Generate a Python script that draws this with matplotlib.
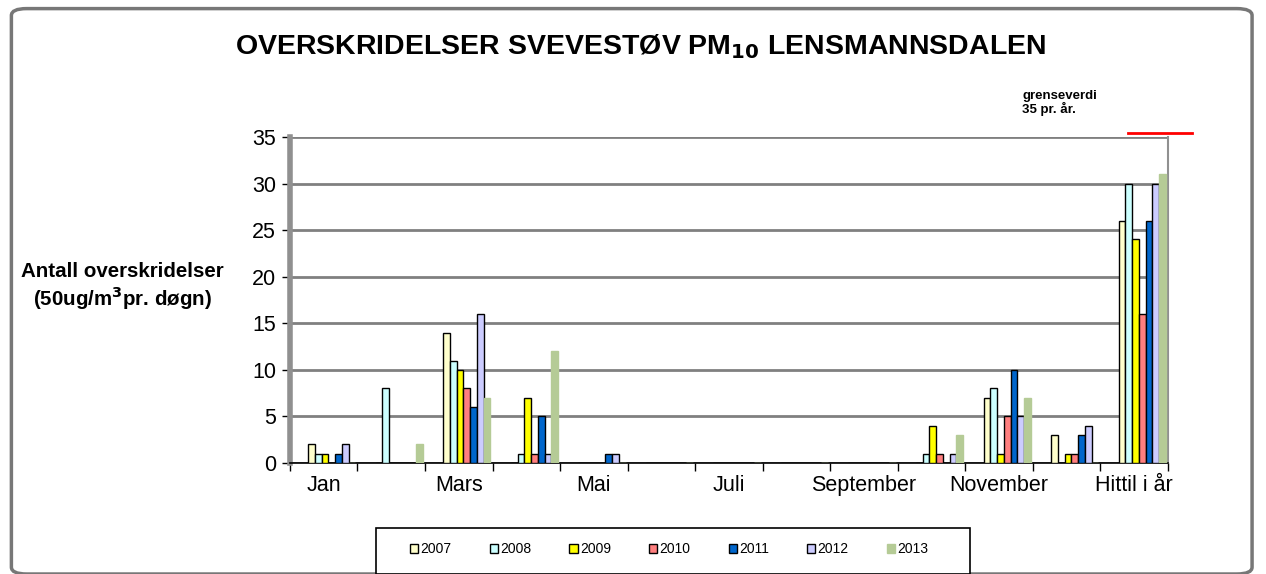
import numpy as np
import matplotlib
matplotlib.use("Agg")
import matplotlib.pyplot as plt
from matplotlib.patches import FancyBboxPatch, Patch, Rectangle

plt.rcParams['font.family'] = ['Liberation Sans', 'DejaVu Sans']

# maneder (kun annenhver vises som etikett)
categories = ["Jan", "Feb", "Mars", "April", "Mai", "Juni", "Juli", "Aug",
              "September", "Okt", "November", "Des", "Hittil i år"]
years = ["2007", "2008", "2009", "2010", "2011", "2012", "2013"]

v2007 = [2, 0, 14, 0, 0, 0, 0, 0, 0, 0, 7, 3, 26]
v2008 = [1, 8, 11, 1, 0, 0, 0, 0, 0, 1, 8, 0, 30]
v2009 = [1, 0, 10, 7, 0, 0, 0, 0, 0, 4, 1, 1, 24]
v2010 = [0, 0, 8, 1, 0, 0, 0, 0, 0, 1, 5, 1, 16]
v2011 = [1, 0, 6, 5, 1, 0, 0, 0, 0, 0, 10, 3, 26]
v2012 = [2, 0, 16, 1, 1, 0, 0, 0, 0, 1, 5, 4, 30]
v2013 = [0, 2, 7, 12, 0, 0, 0, 0, 0, 3, 7, 0, 31]
series = [v2007, v2008, v2009, v2010, v2011, v2012, v2013]

colors = ["#FFFFCC", "#CCFFFF", "#FFFF00", "#FF7F7F", "#0066CC", "#CCCCFF", "#B5CB96"]
limit = 35

fig = plt.figure(figsize=(12.66, 5.74), dpi=100)

# ramme rundt diagrammet
fig.patches.append(FancyBboxPatch((0.009, 0.0), 0.98, 0.985, boxstyle="round,pad=0,rounding_size=0.012",
                                  transform=fig.transFigure, facecolor="white",
                                  edgecolor="#777777", linewidth=2.5, zorder=-1))

ax = fig.add_axes([0.229, 0.1934, 0.6935, 0.5679])
ax.set_facecolor("none")

x = np.arange(len(categories))
w = 0.1
shift = 0.12  # stolpene ligger litt til hoyre (3D-dybde)
for i, (vals, c, yr) in enumerate(zip(series, colors, years)):
    pos = x + (i - 3) * w + shift
    ec = c if yr == "2013" else "black"
    ax.bar(pos, vals, w, color=c, edgecolor=ec, linewidth=1.0, label=yr, zorder=3)

ax.set_xlim(-0.5, len(categories) - 0.5)
ax.set_ylim(0, 35)
ax.set_yticks(range(0, 36, 5))
ax.yaxis.grid(True, color="#808080", linewidth=2, zorder=0)
ax.set_axisbelow(True)

ax.set_xticks(x[::2])
ax.set_xticklabels(categories[::2], fontsize=15.5)
ax.set_xticks(np.arange(-0.5, len(categories), 1), minor=True)
ax.tick_params(axis='x', which='major', length=0, pad=9)
ax.tick_params(axis='x', which='minor', length=6, width=1, direction='out')
ax.tick_params(axis='y', labelsize=15.5, length=6, width=1, pad=4)

ax.spines["top"].set_visible(False)
ax.spines["left"].set_color("#909090")
ax.spines["left"].set_linewidth(4)
ax.spines["right"].set_color("#909090")
ax.spines["right"].set_linewidth(1.5)
ax.spines["bottom"].set_color("black")
ax.spines["bottom"].set_linewidth(1.2)

# grenseverdi
ax.plot([11.91, 12.86], [35.4, 35.4], color="red", linewidth=2, clip_on=False, zorder=5)
ax.text(10.34, 40.0, "grenseverdi\n35 pr. år.", fontsize=9.5, fontweight="bold",
        va="top", ha="left", linespacing=0.95)

fig.text(0.506, 0.918, "OVERSKRIDELSER SVEVESTØV PM$_{\\mathbf{10}}$ LENSMANNSDALEN",
         ha="center", va="center", fontsize=20.5, fontweight="bold")
fig.text(0.097, 0.5, "Antall overskridelser\n(50ug/m$^{\\mathbf{3}}$pr. døgn)",
         ha="center", va="center", fontsize=14.8, fontweight="bold", linespacing=1.15)

# legende med egen ramme
fig.patches.append(Rectangle((0.297, 0.0), 0.469, 0.08, transform=fig.transFigure,
                             facecolor="white", edgecolor="black", linewidth=1.2, zorder=1))
handles = [Patch(facecolor=c, edgecolor=("black" if yr != "2013" else c), label=yr)
           for c, yr in zip(colors, years)]
leg = fig.legend(handles=handles, loc="center", ncol=7,
                 bbox_to_anchor=(0.5285, 0.043), fontsize=10,
                 handlelength=0.6, handleheight=0.6, handletextpad=0.15,
                 columnspacing=2.75, borderaxespad=0, frameon=False)

fig.savefig("out.png", dpi=100)
